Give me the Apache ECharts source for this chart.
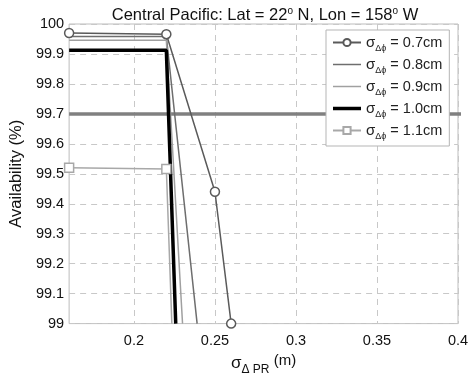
<!DOCTYPE html>
<html>
<head>
<meta charset="utf-8">
<script src="https://cdn.jsdelivr.net/npm/echarts@6/dist/echarts.min.js"></script>
<style>
html,body{margin:0;padding:0;background:#fff;}
#c{width:472px;height:381px;}
</style>
</head>
<body>
<div id="c"></div>
<script>
// Data
const xTicks = [0.2, 0.25, 0.3, 0.35, 0.4];
const seriesNames = ['0.7cm', '0.8cm', '0.9cm', '1.0cm', '1.1cm'];
const s07 = [[0.16, 99.97], [0.22, 99.966], [0.25, 99.44], [0.26, 99.0]];
const s08 = [[0.16, 99.958], [0.22, 99.958], [0.239, 99.0]];
const s09 = [[0.16, 99.946], [0.22, 99.946], [0.230, 99.0]];
const s10 = [[0.16, 99.912], [0.22, 99.912], [0.2258, 99.0]];
const s11 = [[0.16, 99.52], [0.22, 99.516], [0.2234, 99.0]];
const refLine = [[0.16, 99.7], [0.4086, 99.7]];

const FONT = 'Liberation Sans, Arial, sans-serif';
const chart = echarts.init(document.getElementById('c'), null, {renderer: 'canvas'});

const colors = ['#5a5a5a', '#6e6e6e', '#a0a0a0', '#000000', '#a8a8a8'];
const widths = [1.5, 1.5, 1.5, 3.5, 1.5];
const symbols = ['circle', null, null, null, 'rect'];

const legendRich = {
  s: {fontFamily: FONT, fontSize: 15, color: '#222'},
  d: {fontFamily: FONT, fontSize: 9, color: '#222', padding: [12, 0, 0, 0]},
  v: {fontFamily: FONT, fontSize: 14.5, color: '#222'}
};

function lineSeries(name, data, color, width, symbol) {
  return {
    name: name, type: 'line',
    data: data.map((p, i) => (symbol === 'rect' && i === data.length - 1) ? {value: p, symbol: 'none'} : p),
    lineStyle: {color: color, width: width},
    itemStyle: {color: '#fff', borderColor: color, borderWidth: 1.5},
    symbol: symbol || 'none',
    symbolSize: 9,
    showSymbol: !!symbol,
    animation: false,
    z: 3
  };
}

const legendData = seriesNames.map((n, i) => {
  if (symbols[i]) return {name: n};
  return {
    name: n,
    icon: 'path://M0,0H28V' + widths[i] + 'H0Z',
    itemStyle: {color: colors[i], borderWidth: 0}
  };
});

chart.setOption({
  animation: false,
  title: {
    text: '{t|Central Pacific: Lat = 22}{u|o}{t| N, Lon = 158}{u|o}{t| W}',
    left: 260, textAlign: 'center', top: 1,
    textStyle: {
      fontWeight: 'normal',
      rich: {
        t: {fontFamily: FONT, fontSize: 16.5, color: '#111', fontWeight: 'normal'},
        u: {fontFamily: FONT, fontSize: 10, color: '#111', fontWeight: 'normal', padding: [0, 0, 9, 0]}
      }
    }
  },
  grid: {left: 67, right: 14, top: 24, bottom: 47, show: true, borderColor: '#bdbdbd', borderWidth: 1},
  legend: {
    orient: 'vertical',
    left: 326, top: 30,
    backgroundColor: '#fff',
    borderColor: '#b5b5b5', borderWidth: 1,
    padding: [5, 7, 5, 6],
    itemGap: 4,
    itemWidth: 28, itemHeight: 9,
    data: legendData,
    formatter: n => '{s|σ}{d|Δϕ}{v| = ' + n + '}',
    textStyle: {rich: legendRich}
  },
  xAxis: {
    type: 'value', min: 0.16, max: 0.4,
    name: '{s|σ}{d|Δ PR}{m| (m)}',
    nameLocation: 'middle', nameGap: 19,
    nameTextStyle: {
      rich: {
        s: {fontFamily: FONT, fontSize: 17, color: '#111'},
        d: {fontFamily: FONT, fontSize: 12, color: '#111', padding: [14, 0, 0, 0]},
        m: {fontFamily: FONT, fontSize: 15, color: '#111', padding: [0, 0, 4, 0]}
      }
    },
    axisLine: {show: false},
    axisTick: {show: false, customValues: xTicks},
    axisLabel: {customValues: xTicks, fontFamily: FONT, fontSize: 14.5, color: '#111', margin: 10,
      formatter: v => String(+(+v).toFixed(2))},
    splitLine: {show: true, lineStyle: {color: '#c8c8c8', type: [6, 5], width: 1}}
  },
  yAxis: {
    type: 'value', min: 99, max: 100, interval: 0.1,
    name: 'Availability (%)', nameLocation: 'middle', nameGap: 37,
    nameTextStyle: {fontFamily: FONT, fontSize: 16.5, color: '#111'},
    axisLine: {show: false},
    axisTick: {show: false},
    axisLabel: {fontFamily: FONT, fontSize: 14.5, color: '#111', margin: 5,
      formatter: v => String(+(+v).toFixed(1))},
    splitLine: {show: true, lineStyle: {color: '#c8c8c8', type: [6, 5], width: 1}}
  },
  series: [
    Object.assign(lineSeries('ref', refLine, '#808080', 3.5), {clip: false, z: 2, legendHoverLink: false}),
    lineSeries('0.7cm', s07, colors[0], widths[0], symbols[0]),
    lineSeries('0.8cm', s08, colors[1], widths[1], symbols[1]),
    lineSeries('0.9cm', s09, colors[2], widths[2], symbols[2]),
    lineSeries('1.0cm', s10, colors[3], widths[3], symbols[3]),
    lineSeries('1.1cm', s11, colors[4], widths[4], symbols[4])
  ]
});
</script>
</body>
</html>
